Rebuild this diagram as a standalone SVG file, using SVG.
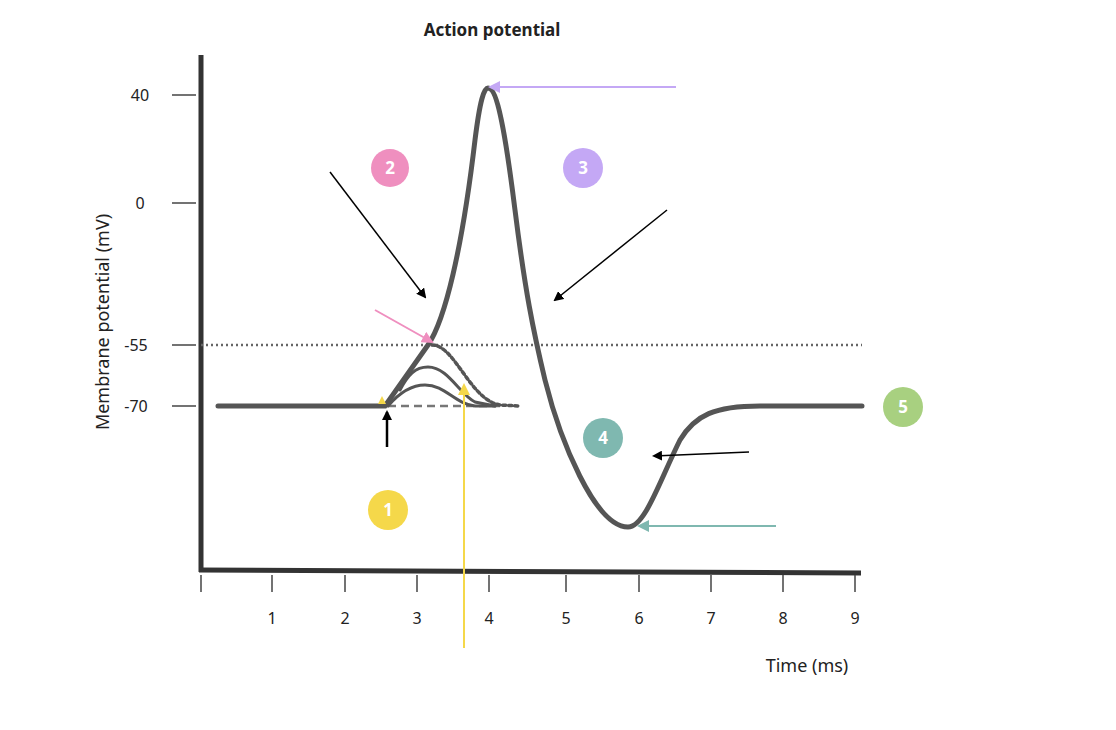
<svg xmlns="http://www.w3.org/2000/svg" width="1116" height="730" viewBox="0 0 1116 730">
<style>
text{font-family:"Noto Sans","Liberation Sans",sans-serif;fill:#222}
.t{font-size:16px;text-anchor:middle}
.c{fill:none;stroke:#555;stroke-linecap:round}
.n{font-size:17px;font-weight:bold;fill:#fff;text-anchor:middle}
</style>
<defs>
<marker id="ab" markerWidth="10" markerHeight="10" refX="8" refY="5" orient="auto" markerUnits="userSpaceOnUse"><path d="M0,0L10,5L0,10z" fill="#000"/></marker>
<marker id="ap" markerWidth="12" markerHeight="12" refX="10" refY="6" orient="auto" markerUnits="userSpaceOnUse"><path d="M0,0L12,6L0,12z" fill="#ef8fbf"/></marker>
<marker id="au" markerWidth="12" markerHeight="12" refX="10" refY="6" orient="auto" markerUnits="userSpaceOnUse"><path d="M0,0L12,6L0,12z" fill="#c4a8f5"/></marker>
<marker id="at" markerWidth="12" markerHeight="12" refX="10" refY="6" orient="auto" markerUnits="userSpaceOnUse"><path d="M0,0L12,6L0,12z" fill="#7fb8b0"/></marker>
<marker id="ay" markerWidth="12" markerHeight="12" refX="10" refY="6" orient="auto" markerUnits="userSpaceOnUse"><path d="M0,0L12,6L0,12z" fill="#f5d84a"/></marker>
</defs>
<rect width="1116" height="730" fill="#fff"/>
<text x="492" y="36" font-size="17" font-weight="bold" text-anchor="middle">Action potential</text>
<g id="axes">
<line x1="201" y1="55" x2="201" y2="572" stroke="#333" stroke-width="5"/>
<line x1="199" y1="570" x2="861" y2="573" stroke="#333" stroke-width="5"/>
<g stroke="#444" stroke-width="1.5">
<line x1="172" y1="95" x2="196" y2="95"/><line x1="172" y1="203" x2="196" y2="203"/>
<line x1="172" y1="345" x2="196" y2="345"/><line x1="172" y1="406" x2="196" y2="406"/>
<line x1="201" y1="575" x2="201" y2="592"/><line x1="272" y1="575" x2="272" y2="592"/><line x1="345" y1="575" x2="345" y2="592"/><line x1="417" y1="575" x2="417" y2="592"/><line x1="489" y1="575" x2="489" y2="592"/><line x1="566" y1="575" x2="566" y2="592"/><line x1="639" y1="575" x2="639" y2="592"/><line x1="711" y1="575" x2="711" y2="592"/><line x1="783" y1="575" x2="783" y2="592"/><line x1="855" y1="575" x2="855" y2="592"/>
</g>
<text class="t" x="140" y="101">40</text><text class="t" x="140" y="209">0</text><text class="t" x="136" y="351">-55</text><text class="t" x="136" y="412">-70</text>
<text class="t" x="272" y="624">1</text><text class="t" x="345" y="624">2</text><text class="t" x="417" y="624">3</text><text class="t" x="489" y="624">4</text><text class="t" x="566" y="624">5</text><text class="t" x="639" y="624">6</text><text class="t" x="711" y="624">7</text><text class="t" x="783" y="624">8</text><text class="t" x="855" y="624">9</text>
<text x="807" y="672" font-size="18" text-anchor="middle">Time (ms)</text>
<text transform="translate(109,322) rotate(-90)" font-size="18" text-anchor="middle">Membrane potential (mV)</text>
</g>
<g id="curves">
<line x1="201" y1="345" x2="862" y2="345" stroke="#666" stroke-width="2.5" stroke-dasharray="2,3"/>
<line x1="388" y1="406" x2="500" y2="406" stroke="#777" stroke-width="2.5" stroke-dasharray="8,5"/>
<path class="c" stroke-width="3" d="M388,406 C400,392 412,385 425,385 C445,385 455,404 475,406 L495,406"/>
<path class="c" stroke-width="3" d="M400,390 C408,375 415,367 428,367 C448,367 460,395 475,402 L495,406"/>
<path class="c" stroke-width="3.5" stroke-dasharray="3,3" d="M432,345 C455,345 470,400 500,405 L520,406"/>
<path class="c" stroke-width="5" d="M218,406 L385,406 L428,345 C445,320 462,250 475,140 C480,100 484,88 488,88 C497,88 505,130 515,210 C525,290 533,330 545,380 C560,440 595,527 628,527 C645,527 660,480 680,440 C695,415 715,406 760,406 L862,406"/>
</g>
<g id="markers">
<g id="n2"><circle cx="390" cy="168" r="19" fill="#ef8fbf"/><text class="n" x="390" y="174">2</text></g>
<g id="n3"><circle cx="583" cy="168" r="20" fill="#c4a8f5"/><text class="n" x="583" y="174">3</text></g>
<g id="n4"><circle cx="603" cy="438" r="20" fill="#7fb8b0"/><text class="n" x="603" y="444">4</text></g>
<g id="n5"><circle cx="903" cy="407" r="20" fill="#a8d080"/><text class="n" x="903" y="413">5</text></g>
<g id="n1"><circle cx="388" cy="510" r="20" fill="#f5d84a"/><text class="n" x="388" y="516">1</text></g>
</g>
<g id="connectors" stroke-width="1.5">
<line x1="330" y1="172" x2="425" y2="297" stroke="#000" marker-end="url(#ab)"/>
<line x1="667" y1="210" x2="555" y2="300" stroke="#000" marker-end="url(#ab)"/>
<line x1="749" y1="452" x2="654" y2="456" stroke="#000" marker-end="url(#ab)"/>
<line x1="387" y1="447" x2="387" y2="412" stroke="#000" stroke-width="2.5" marker-end="url(#ab)"/>
<line x1="375" y1="310" x2="432" y2="342" stroke="#ef8fbf" stroke-width="2" marker-end="url(#ap)"/>
<line x1="676" y1="87" x2="490" y2="87" stroke="#c4a8f5" stroke-width="2" marker-end="url(#au)"/>
<line x1="776" y1="526" x2="639" y2="526" stroke="#7fb8b0" stroke-width="2" marker-end="url(#at)"/>
<line x1="464" y1="648" x2="464" y2="385" stroke="#f5d84a" stroke-width="2" marker-end="url(#ay)"/>
<path d="M378,404 L382,396 L386,404z" fill="#f5d84a"/>
</g>
</svg>
